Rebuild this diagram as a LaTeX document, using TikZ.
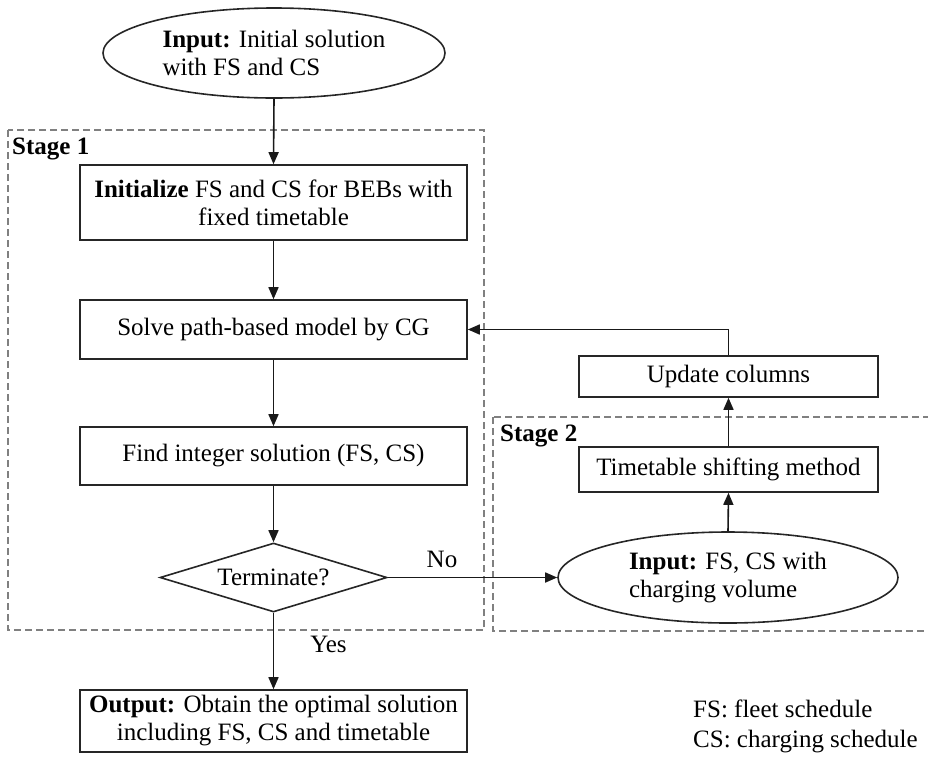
\documentclass[tikz,border=0pt]{standalone}
\usepackage{fontspec}
\setmainfont{Liberation Serif}
\usetikzlibrary{shapes.geometric,arrows.meta}
\begin{document}
\begin{tikzpicture}[x=1pt,y=-1pt,
  every node/.style={font=\fontsize{25}{28}\selectfont},
  box/.style={draw=black!85,line width=1.6pt,rectangle,inner sep=0pt,align=center},
  ell/.style={draw=black!85,line width=1.6pt,ellipse,inner sep=0pt,align=left},
  dia/.style={draw=black!85,line width=1.6pt,diamond,inner sep=0pt,aspect=3.29},
  stagebox/.style={draw=black!50,line width=1.1pt,dash pattern=on 7pt off 4pt},
  conn/.style={line width=1.6pt,draw=black!90,-{Triangle[length=12pt,width=10pt]}},
  plain/.style={inner sep=0pt}]
\useasboundingbox (0,0) rectangle (928,761);
% stage boxes
\draw[stagebox] (8,130) rectangle (484,630);
\draw[stagebox] (493,417) rectangle (932,631);
\node[plain,anchor=base west,font=\fontsize{25}{28}\selectfont\bfseries] (st1) at (12,154) {Stage 1};
\node[plain,anchor=base west,font=\fontsize{25}{28}\selectfont\bfseries] (st2) at (500,441) {Stage 2};
% nodes
\node[ell,minimum width=342pt,minimum height=90pt] (in1) at (274,53) {\textbf{Input:} Initial solution\\with FS and CS};
\node[box,minimum width=387pt,minimum height=75pt] (init) at (273.5,202.5) {\textbf{Initialize} FS and CS for BEBs with\\fixed timetable};
\node[box,minimum width=387pt,minimum height=59pt] (solve) at (273.5,329.5) {Solve path-based model by CG};
\node[box,minimum width=387pt,minimum height=58pt] (find) at (273.5,456) {Find integer solution (FS, CS)};
\node[dia,minimum width=227pt,minimum height=69pt] (term) at (273.5,577.5) {Terminate?};
\node[box,minimum width=387pt,minimum height=62pt] (out) at (273.5,721) {\textbf{Output:} Obtain the optimal solution\\including FS, CS and timetable};
\node[box,minimum width=299pt,minimum height=41pt] (upd) at (728.5,376.5) {Update columns};
\node[box,minimum width=299pt,minimum height=45pt] (shift) at (728.5,469.5) {Timetable shifting method};
\node[ell,minimum width=340pt,minimum height=91pt] (in2) at (728,577.5) {\textbf{Input:} FS, CS with\\charging volume};
% legend
\node[plain,anchor=base west] (lg1) at (693,717) {FS: fleet schedule};
\node[plain,anchor=base west] (lg2) at (693,747) {CS: charging schedule};
% connectors
\draw[conn] (in1.south) -- (init.north);
\draw[conn] (init.south) -- (solve.north);
\draw[conn] (solve.south) -- (find.north);
\draw[conn] (find.south) -- (term.north);
\draw[conn] (term.south) -- node[plain,pos=0.42,right=36pt] {Yes} (out.north);
\draw[conn] (term.east) -- node[plain,pos=0.32,above=9pt] {No} (in2.west);
\draw[conn] (in2.north) -- (shift.south);
\draw[conn] (shift.north) -- (upd.south);
\draw[conn] (upd.north) |- (solve.east);
\end{tikzpicture}
\end{document}
